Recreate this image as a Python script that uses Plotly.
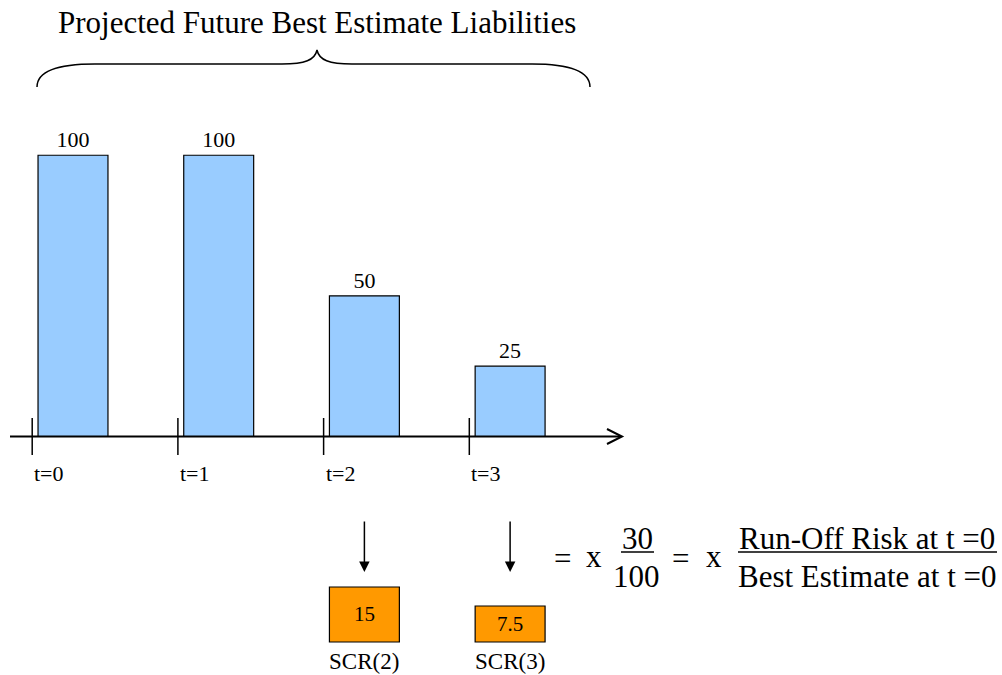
import plotly.graph_objects as go

W, H = 1002, 675

# ---- data ----
periods = [0, 1, 2, 3]
period_labels = ["t=0", "t=1", "t=2", "t=3"]
best_estimate = [100, 100, 50, 25]
scr_periods = [2, 3]
scr_values = [15, 7.5]
scr_labels = ["SCR(2)", "SCR(3)"]
runoff_risk_t0 = 30
best_estimate_t0 = 100
title_text = "Projected Future Best Estimate Liabilities"

# ---- styling / layout constants ----
FONT = "Liberation Serif, Times New Roman, serif"
BLUE = "#99CCFF"
ORANGE = "#FF9900"
BAR_SHIFT = 0.28          # bars sit just to the right of each period tick
BAR_WIDTH = 0.48
X_RANGE = [-0.221, 6.656]
Y_RANGE = [-84.8, 155.2]
SCR_FLOOR = -6.71         # common floor of the SCR boxes on the secondary axis
Y2_RANGE = [-19.74, 246.74]


def px_x(p):
    return p / W


def px_y(p):
    return 1 - p / H


def path_from(points):
    segs = []
    for cmd, pts in points:
        coords = " ".join(f"{px_x(a):.5f},{px_y(b):.5f}" for a, b in pts)
        segs.append(f"{cmd} {coords}")
    return " ".join(segs)


bar_x = [t + BAR_SHIFT for t in periods]
scr_x = [t + BAR_SHIFT for t in scr_periods]

fig = go.Figure()

fig.add_trace(go.Bar(
    x=bar_x, y=best_estimate, width=BAR_WIDTH,
    marker=dict(color=BLUE, line=dict(color="black", width=1.2)),
    text=[str(v) for v in best_estimate], textposition="outside",
    textfont=dict(family=FONT, size=22, color="black"),
    cliponaxis=False, hoverinfo="skip", showlegend=False,
))

fig.add_trace(go.Bar(
    x=scr_x, y=[v - SCR_FLOOR for v in scr_values], base=SCR_FLOOR,
    width=BAR_WIDTH, yaxis="y2",
    marker=dict(color=ORANGE, line=dict(color="black", width=1.2)),
    text=[f"{v:g}" for v in scr_values], textposition="inside",
    insidetextanchor="middle", textangle=0, constraintext="none",
    insidetextfont=dict(family=FONT, size=21, color="black"),
    cliponaxis=False, hoverinfo="skip", showlegend=False,
))

shapes = []
# time axis with open arrow head
shapes.append(dict(type="line", xref="paper", yref="paper",
                   x0=px_x(10), x1=px_x(621), y0=px_y(436.5), y1=px_y(436.5),
                   line=dict(color="black", width=2)))
shapes.append(dict(type="path", xref="paper", yref="paper",
                   path=path_from([("M", [(607, 429)]), ("L", [(622, 436.5)]), ("L", [(607, 444)])]),
                   line=dict(color="black", width=2)))
# period ticks crossing the axis
for t in periods:
    shapes.append(dict(type="line", xref="x", yref="paper",
                       x0=t, x1=t, y0=px_y(418), y1=px_y(455),
                       line=dict(color="black", width=1.5)))
# curly brace over the projected liabilities
brace = [
    ("M", [(37, 87)]),
    ("C", [(37, 72), (55, 64), (95, 64)]),
    ("L", [(282, 64)]),
    ("C", [(305, 64), (315, 60), (317, 50)]),
    ("C", [(319, 60), (329, 64), (352, 64)]),
    ("L", [(532, 64)]),
    ("C", [(572, 64), (590, 72), (590, 87)]),
]
shapes.append(dict(type="path", xref="paper", yref="paper", path=path_from(brace),
                   line=dict(color="black", width=1.5)))
# fraction bars
shapes.append(dict(type="line", xref="paper", yref="paper",
                   x0=px_x(621), x1=px_x(654), y0=px_y(552), y1=px_y(552),
                   line=dict(color="black", width=1.5)))
shapes.append(dict(type="line", xref="paper", yref="paper",
                   x0=px_x(738), x1=px_x(997), y0=px_y(552), y1=px_y(552),
                   line=dict(color="black", width=1.5)))

annotations = []
annotations.append(dict(text=title_text, xref="paper", yref="paper",
                        x=px_x(317), y=px_y(22), xanchor="center", yanchor="middle",
                        showarrow=False, font=dict(family=FONT, size=31, color="black")))
for t, lab in zip(periods, period_labels):
    annotations.append(dict(text=lab, xref="x", yref="paper", x=t, y=px_y(473),
                            xanchor="left", yanchor="middle", xshift=0, showarrow=False,
                            font=dict(family=FONT, size=22, color="black")))
for x, lab in zip(scr_x, scr_labels):
    annotations.append(dict(text=lab, xref="x", yref="paper", x=x, y=px_y(661),
                            xanchor="center", yanchor="middle", showarrow=False,
                            font=dict(family=FONT, size=23, color="black")))
    annotations.append(dict(text="", xref="x", yref="paper", x=x, y=px_y(572),
                            ax=0, ay=-52, showarrow=True, arrowhead=2,
                            arrowsize=1.4, arrowwidth=1.5, arrowcolor="black"))

eq_font = dict(family=FONT, size=31, color="black")
for txt, cx, cy in [("=", 562, 558), ("x", 594, 556), ("=", 680, 558), ("x", 714, 556),
                    (str(runoff_risk_t0), 637, 538), (str(best_estimate_t0), 636, 576),
                    ("Run-Off Risk at t =0", 867, 538), ("Best Estimate at t =0", 867, 576)]:
    annotations.append(dict(text=txt, xref="paper", yref="paper",
                            x=px_x(cx), y=px_y(cy), xanchor="center", yanchor="middle",
                            showarrow=False, font=eq_font))

fig.update_layout(
    width=W, height=H,
    margin=dict(l=0, r=0, t=0, b=0),
    paper_bgcolor="white", plot_bgcolor="white",
    barmode="overlay",
    xaxis=dict(range=X_RANGE, visible=False, fixedrange=True),
    yaxis=dict(range=Y_RANGE, visible=False, fixedrange=True),
    yaxis2=dict(range=Y2_RANGE, visible=False, overlaying="y", fixedrange=True),
    shapes=shapes,
    annotations=annotations,
    font=dict(family=FONT),
)

fig.write_html("out.html", config={"displayModeBar": False})
